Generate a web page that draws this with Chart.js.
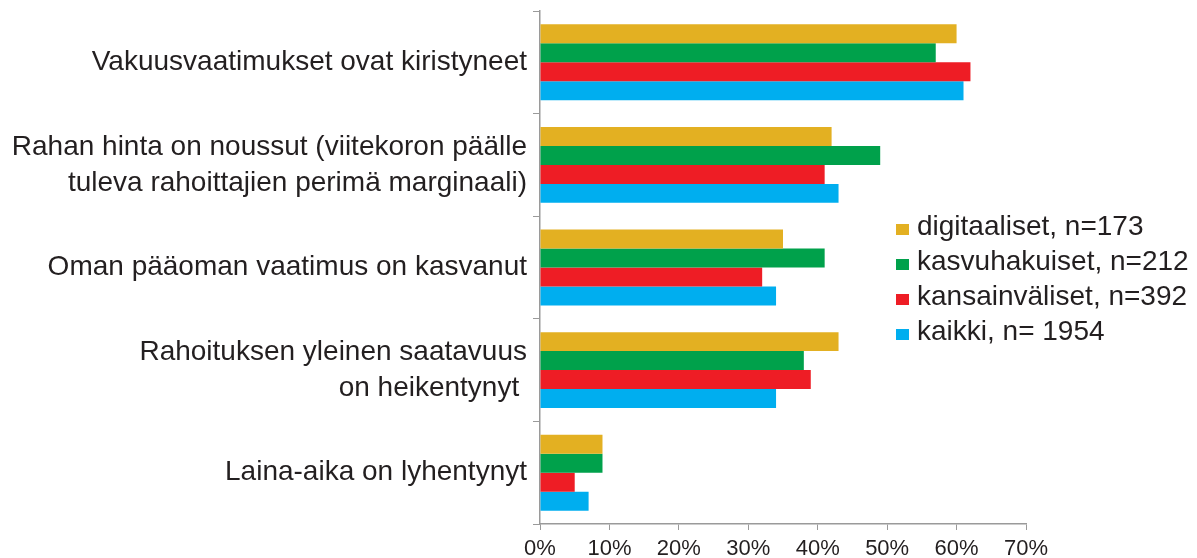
<!DOCTYPE html>
<html>
<head>
<meta charset="utf-8">
<script src="https://cdn.jsdelivr.net/npm/chart.js@4.4.1/dist/chart.umd.min.js"></script>
<style>
  html, body { margin: 0; padding: 0; background: #fff; }
  #wrap { position: relative; width: 1197px; height: 558px; }
  #legend { position: absolute; left: 896px; top: 208px; font-family: "Liberation Sans", Arial, sans-serif; font-size: 28px; color: #231F20; }
  .item { height: 35px; line-height: 35px; white-space: nowrap; }
  .sw { display: inline-block; width: 13px; height: 11px; margin-right: 8px; vertical-align: 0px; }
</style>
</head>
<body>
<div id="wrap">
  <canvas id="c" width="1197" height="558"></canvas>
  <div id="legend"></div>
</div>
<script>
const categories = [
  ["Vakuusvaatimukset ovat kiristyneet"],
  ["Rahan hinta on noussut (viitekoron päälle", "tuleva rahoittajien perimä marginaali)"],
  ["Oman pääoman vaatimus on kasvanut"],
  ["Rahoituksen yleinen saatavuus", "on heikentynyt "],
  ["Laina-aika on lyhentynyt"]
];
const seriesNames = ["digitaaliset, n=173", "kasvuhakuiset, n=212", "kansainväliset, n=392", "kaikki, n= 1954"];
const digitaaliset   = [60, 42, 35, 43, 9];
const kasvuhakuiset  = [57, 49, 41, 38, 9];
const kansainvaliset = [62, 41, 32, 39, 5];
const kaikki         = [61, 43, 34, 34, 7];
const xTicks = [0, 10, 20, 30, 40, 50, 60, 70];
const colors = ["#E3B022", "#00A14B", "#EE1D25", "#00AEEF"];

const values = [digitaaliset, kasvuhakuiset, kansainvaliset, kaikki];
const FONT = "'Liberation Sans', Arial, sans-serif";

new Chart(document.getElementById('c'), {
  type: 'bar',
  data: {
    labels: categories,
    datasets: values.map((v, i) => ({
      label: seriesNames[i],
      data: v,
      backgroundColor: colors[i],
      borderWidth: 0,
      categoryPercentage: 0.74,
      barPercentage: 1.0
    }))
  },
  options: {
    indexAxis: 'y',
    responsive: false,
    animation: false,
    layout: { padding: { top: 11, right: 171, left: 0, bottom: 0 } },
    plugins: { legend: { display: false }, tooltip: { enabled: false } },
    scales: {
      x: {
        min: 0, max: 70,
        afterBuildTicks: (s) => { s.ticks = xTicks.map(v => ({ value: v })); },
        afterFit: (s) => { s.height = 34; s.paddingLeft = 0; s.paddingRight = 0; },
        grid: { drawOnChartArea: false, drawTicks: true, tickLength: 6, color: '#9a9a9a' },
        border: { color: '#9a9a9a', width: 1.5 },
        ticks: { color: '#231F20', font: { family: FONT, size: 22 }, padding: 6, maxRotation: 0, callback: (v) => v + '%' }
      },
      y: {
        afterFit: (s) => { s.width = 540; s.paddingTop = 0; s.paddingBottom = 0; },
        grid: { drawOnChartArea: false, drawTicks: true, tickLength: 7, color: '#9a9a9a', offset: true },
        border: { color: '#9a9a9a', width: 1.5 },
        ticks: { color: '#231F20', font: { family: FONT, size: 28, lineHeight: 1.29 }, padding: 6 }
      }
    }
  }
});

const lg = document.getElementById('legend');
seriesNames.forEach((n, i) => {
  const d = document.createElement('div');
  d.className = 'item';
  d.innerHTML = '<span class="sw" style="background:' + colors[i] + '"></span>' + n;
  lg.appendChild(d);
});
</script>
</body>
</html>
